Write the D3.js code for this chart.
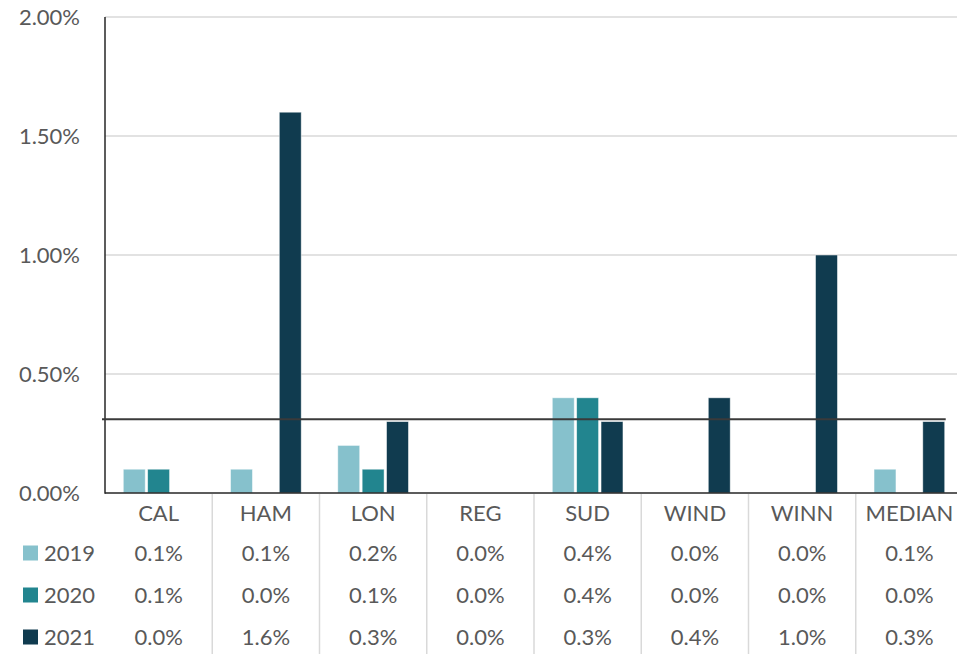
<!DOCTYPE html>
<html><head><meta charset="utf-8">
<script src="https://cdn.jsdelivr.net/npm/d3@7"></script>
<style>body{margin:0;background:#fff}svg{display:block}text{font-family:Lato,"Open Sans",sans-serif;fill:#595959}</style>
</head><body><svg id="c" width="957" height="654"></svg>
<script>
const categories = ["CAL","HAM","LON","REG","SUD","WIND","WINN","MEDIAN"];
const years = ["2019","2020","2021"];
const values2019 = [0.001,0.001,0.002,0.000,0.004,0.000,0.000,0.001];
const values2020 = [0.001,0.000,0.001,0.000,0.004,0.000,0.000,0.000];
const values2021 = [0.000,0.016,0.003,0.000,0.003,0.004,0.010,0.003];
const colors = ["#86C1CC","#22858F","#103B4F"];
const yTicks = [0,0.005,0.01,0.015,0.02];
const referenceValue = 0.0031;

const series = [values2019, values2020, values2021];
const svg = d3.select("#c");
const mLeft = 105, mRight = 963, mTop = 17, mBottom = 493;
const fs = 22;

const x = d3.scaleBand().domain(categories).range([mLeft, mRight]).padding(0);
const xSub = d3.scaleBand().domain(years).range([0, x.bandwidth()]).paddingInner(0.1).paddingOuter(0.75);
const y = d3.scaleLinear().domain([0, 0.02]).range([mBottom, mTop]);

// gridlines
svg.append("g").selectAll("line").data(yTicks.filter(d => d > 0)).join("line")
  .attr("x1", mLeft).attr("x2", 957).attr("y1", d => y(d)).attr("y2", d => y(d))
  .attr("stroke", "#d9d9d9").attr("stroke-width", 1.5);

// y axis
const yAxis = d3.axisLeft(y).tickValues(yTicks).tickFormat(d3.format(".2%")).tickSize(0).tickPadding(25);
const gy = svg.append("g").attr("transform", `translate(${mLeft},0)`).call(yAxis);
gy.select(".domain").remove();
gy.selectAll("text").attr("font-size", fs).style("font-family", "Lato,'Open Sans',sans-serif").attr("fill", "#595959");

// bars
years.forEach((yr, i) => {
  svg.append("g").selectAll("rect").data(categories.map((c, j) => ({c, v: series[i][j]})).filter(d => d.v > 0)).join("rect")
    .attr("x", d => x(d.c) + xSub(yr))
    .attr("width", xSub.bandwidth())
    .attr("y", d => y(d.v))
    .attr("height", d => y(0) - y(d.v))
    .attr("fill", colors[i])
    .attr("stroke", "#ffffff").attr("stroke-opacity", 0.6).attr("stroke-width", 0.8);
});

// axis lines
svg.append("line").attr("x1", mLeft).attr("x2", mLeft).attr("y1", y(0.02)).attr("y2", mBottom + 0.75)
  .attr("stroke", "#262626").attr("stroke-width", 1.5);
svg.append("line").attr("x1", mLeft).attr("x2", 957).attr("y1", mBottom).attr("y2", mBottom)
  .attr("stroke", "#262626").attr("stroke-width", 1.5);

// reference line
const refEnd = x(categories[categories.length - 1]) + xSub(years[2]) + xSub.bandwidth() + 1;
svg.append("line").attr("x1", mLeft - 3).attr("x2", refEnd)
  .attr("y1", y(referenceValue)).attr("y2", y(referenceValue))
  .attr("stroke", "#3a3a3a").attr("stroke-width", 2);

// data table
const rowY = [513, 553, 595, 637];
svg.append("g").selectAll("line").data(categories.slice(1)).join("line")
  .attr("x1", d => x(d)).attr("x2", d => x(d)).attr("y1", mBottom + 1).attr("y2", 654)
  .attr("stroke", "#d9d9d9").attr("stroke-width", 1.5);

svg.append("g").selectAll("text").data(categories).join("text")
  .attr("x", d => x(d) + x.bandwidth() / 2).attr("y", rowY[0]).attr("dy", "0.35em")
  .attr("text-anchor", "middle").attr("font-size", fs).text(d => d);

const fmt = d3.format(".1%");
years.forEach((yr, i) => {
  const g = svg.append("g");
  g.append("rect").attr("x", 23).attr("y", rowY[i + 1] - 7.5).attr("width", 15).attr("height", 15).attr("fill", colors[i]);
  g.append("text").attr("x", 44).attr("y", rowY[i + 1]).attr("dy", "0.35em").attr("font-size", fs).text(yr);
  g.selectAll("text.v").data(categories.map((c, j) => ({c, v: series[i][j]}))).join("text").attr("class", "v")
    .attr("x", d => x(d.c) + x.bandwidth() / 2).attr("y", rowY[i + 1]).attr("dy", "0.35em")
    .attr("text-anchor", "middle").attr("font-size", fs).text(d => fmt(d.v));
});
</script></body></html>
